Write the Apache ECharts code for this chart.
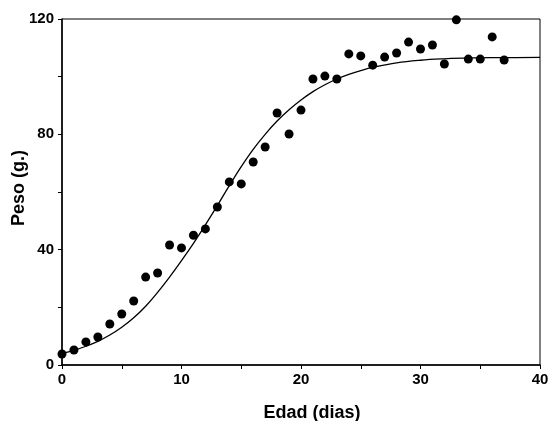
<!DOCTYPE html>
<html>
<head>
<meta charset="utf-8">
<script src="https://cdn.jsdelivr.net/npm/echarts@6/dist/echarts.min.js"></script>
<style>html,body{margin:0;padding:0;background:#fff}#c{width:552px;height:421px}</style>
</head>
<body>
<div id="c"></div>
<script>
// Observed points: age (days) and weight (g)
const days = [0,1,2,3,4,5,6,7,8,9,10,11,12,13,14,15,16,17,18,19,20,21,22,23,24,25,26,27,28,29,30,31,32,33,34,35,36,37];
const weights = [3.8,5.2,8,9.7,14.2,17.7,22.2,30.5,31.9,41.6,40.6,45,47.2,54.8,63.5,62.8,70.4,75.6,87.4,80.1,88.4,99.2,100.2,99.2,107.9,107.2,104,106.8,108.2,112,109.6,111,104.4,119.7,106.1,106.1,113.8,105.8];
// Fitted curve
const curveDays = [0,1,2,3,4,5,6,7,8,9,10,11,12,13,14,15,16,17,18,19,20,21,22,23,24,25,26,28,30,32,34,37,40];
const curveWeights = [4.0,5.1,6.5,8.2,10.4,13.1,16.4,20.4,25.2,30.5,36.2,42.2,48.6,55.3,62.2,68.8,74.8,80.0,84.6,88.5,91.9,94.8,97.2,99.2,100.8,102.1,103.2,104.8,105.7,106.2,106.5,106.6,106.7];
const xTicks = [0,10,20,30,40];
const yTicks = [0,40,80,120];

const pts = days.map((d,i)=>[d,weights[i]]);
const curve = curveDays.map((d,i)=>[d,curveWeights[i]]);
const font = '"Liberation Sans", Arial, sans-serif';

const chart = echarts.init(document.getElementById('c'), null, {renderer:'canvas'});
chart.setOption({
  animation:false,
  backgroundColor:'#fff',
  grid:{left:62,right:12,top:19,bottom:56,show:true,borderColor:'#000',borderWidth:1,containLabel:false,outerBoundsMode:'none'},
  xAxis:{
    type:'value',min:xTicks[0],max:xTicks[xTicks.length-1],interval:10,
    name:'Edad (dias)',nameLocation:'middle',nameGap:39,nameMoveOverlap:false,
    nameTextStyle:{fontFamily:font,fontWeight:'bold',fontSize:18,color:'#000',padding:[0,0,0,22]},
    axisLine:{lineStyle:{color:'#000',width:1.5}},
    axisTick:{show:true,length:4,lineStyle:{color:'#000',width:1}},
    minorTick:{show:true,splitNumber:2,length:4,lineStyle:{color:'#000',width:1}},
    splitLine:{show:false},
    axisLabel:{fontFamily:font,fontWeight:'bold',fontSize:15,color:'#000',margin:7}
  },
  yAxis:{
    type:'value',min:yTicks[0],max:yTicks[yTicks.length-1],interval:40,
    name:'Peso (g.)',nameLocation:'middle',nameGap:34,nameRotate:90,nameMoveOverlap:false,
    nameTextStyle:{fontFamily:font,fontWeight:'bold',fontSize:18,color:'#000',padding:[0,0,0,8]},
    axisLine:{lineStyle:{color:'#000',width:1.5}},
    axisTick:{show:true,length:4,lineStyle:{color:'#000',width:1}},
    minorTick:{show:true,splitNumber:2,length:4,lineStyle:{color:'#000',width:1}},
    splitLine:{show:false},
    axisLabel:{fontFamily:font,fontWeight:'bold',fontSize:15,color:'#000',margin:8}
  },
  series:[
    {type:'line',data:curve,smooth:0.4,showSymbol:false,lineStyle:{color:'#000',width:1.3},z:2},
    {type:'scatter',data:pts,symbol:'circle',symbolSize:9,itemStyle:{color:'#000',opacity:1},z:3}
  ]
});
</script>
</body>
</html>
